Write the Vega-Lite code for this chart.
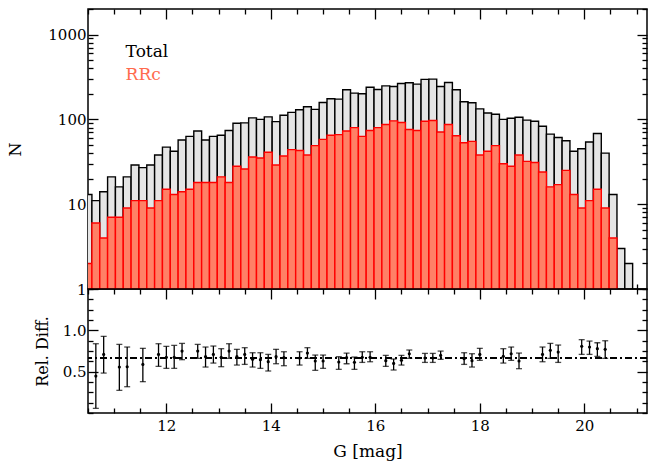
{
  "$schema": "https://vega.github.io/schema/vega-lite/v6.json",
  "padding": {"left": 7, "top": 1, "right": 19, "bottom": 5},
  "background": "white",
  "spacing": 0,
  "bounds": "flush",
  "config": {
    "font": "DejaVu Serif",
    "view": {"stroke": "black", "strokeWidth": 1.5},
    "axis": {
      "domain": false,
      "grid": false,
      "minExtent": 0,
      "tickColor": "black",
      "tickWidth": 1.3,
      "labelColor": "black",
      "labelFontSize": 15,
      "labelFlush": false,
      "labelOverlap": false,
      "titleColor": "black",
      "titleFontSize": 16,
      "titleFontWeight": "normal"
    }
  },
  "datasets": {
    "hist": [
      {"g0": 10.425, "g1": 10.575, "total": 13, "rrc": 2},
      {"g0": 10.575, "g1": 10.725, "total": 11, "rrc": 6},
      {"g0": 10.725, "g1": 10.875, "total": 14, "rrc": 4},
      {"g0": 10.875, "g1": 11.025, "total": 21, "rrc": 7},
      {"g0": 11.025, "g1": 11.175, "total": 16, "rrc": 7},
      {"g0": 11.175, "g1": 11.325, "total": 21, "rrc": 9},
      {"g0": 11.325, "g1": 11.475, "total": 29, "rrc": 11},
      {"g0": 11.475, "g1": 11.625, "total": 27, "rrc": 11},
      {"g0": 11.625, "g1": 11.775, "total": 29, "rrc": 9},
      {"g0": 11.775, "g1": 11.925, "total": 38, "rrc": 11},
      {"g0": 11.925, "g1": 12.075, "total": 47, "rrc": 15},
      {"g0": 12.075, "g1": 12.225, "total": 42, "rrc": 13},
      {"g0": 12.225, "g1": 12.375, "total": 57, "rrc": 14},
      {"g0": 12.375, "g1": 12.525, "total": 63, "rrc": 15},
      {"g0": 12.525, "g1": 12.675, "total": 73, "rrc": 18},
      {"g0": 12.675, "g1": 12.825, "total": 57, "rrc": 18},
      {"g0": 12.825, "g1": 12.975, "total": 63, "rrc": 18},
      {"g0": 12.975, "g1": 13.125, "total": 65, "rrc": 21},
      {"g0": 13.125, "g1": 13.275, "total": 74, "rrc": 18},
      {"g0": 13.275, "g1": 13.425, "total": 90, "rrc": 28},
      {"g0": 13.425, "g1": 13.575, "total": 91, "rrc": 26},
      {"g0": 13.575, "g1": 13.725, "total": 104, "rrc": 36},
      {"g0": 13.725, "g1": 13.875, "total": 100, "rrc": 35},
      {"g0": 13.875, "g1": 14.025, "total": 107, "rrc": 41},
      {"g0": 14.025, "g1": 14.175, "total": 94, "rrc": 29},
      {"g0": 14.175, "g1": 14.325, "total": 112, "rrc": 37},
      {"g0": 14.325, "g1": 14.475, "total": 121, "rrc": 44},
      {"g0": 14.475, "g1": 14.625, "total": 130, "rrc": 43},
      {"g0": 14.625, "g1": 14.775, "total": 141, "rrc": 38},
      {"g0": 14.775, "g1": 14.925, "total": 131, "rrc": 49},
      {"g0": 14.925, "g1": 15.075, "total": 158, "rrc": 58},
      {"g0": 15.075, "g1": 15.225, "total": 175, "rrc": 65},
      {"g0": 15.225, "g1": 15.375, "total": 173, "rrc": 66},
      {"g0": 15.375, "g1": 15.525, "total": 223, "rrc": 73},
      {"g0": 15.525, "g1": 15.675, "total": 204, "rrc": 80},
      {"g0": 15.675, "g1": 15.825, "total": 200, "rrc": 63},
      {"g0": 15.825, "g1": 15.975, "total": 239, "rrc": 74},
      {"g0": 15.975, "g1": 16.125, "total": 225, "rrc": 80},
      {"g0": 16.125, "g1": 16.275, "total": 248, "rrc": 87},
      {"g0": 16.275, "g1": 16.425, "total": 244, "rrc": 96},
      {"g0": 16.425, "g1": 16.575, "total": 265, "rrc": 92},
      {"g0": 16.575, "g1": 16.725, "total": 270, "rrc": 76},
      {"g0": 16.725, "g1": 16.875, "total": 260, "rrc": 74},
      {"g0": 16.875, "g1": 17.025, "total": 296, "rrc": 95},
      {"g0": 17.025, "g1": 17.175, "total": 298, "rrc": 97},
      {"g0": 17.175, "g1": 17.325, "total": 244, "rrc": 71},
      {"g0": 17.325, "g1": 17.475, "total": 272, "rrc": 87},
      {"g0": 17.475, "g1": 17.625, "total": 223, "rrc": 64},
      {"g0": 17.625, "g1": 17.775, "total": 161, "rrc": 53},
      {"g0": 17.775, "g1": 17.925, "total": 157, "rrc": 55},
      {"g0": 17.925, "g1": 18.075, "total": 133, "rrc": 38},
      {"g0": 18.075, "g1": 18.225, "total": 119, "rrc": 42},
      {"g0": 18.225, "g1": 18.375, "total": 115, "rrc": 49},
      {"g0": 18.375, "g1": 18.525, "total": 100, "rrc": 30},
      {"g0": 18.525, "g1": 18.675, "total": 103, "rrc": 28},
      {"g0": 18.675, "g1": 18.825, "total": 106, "rrc": 38},
      {"g0": 18.825, "g1": 18.975, "total": 98, "rrc": 32},
      {"g0": 18.975, "g1": 19.125, "total": 95, "rrc": 31},
      {"g0": 19.125, "g1": 19.275, "total": 83, "rrc": 24},
      {"g0": 19.275, "g1": 19.425, "total": 67, "rrc": 16},
      {"g0": 19.425, "g1": 19.575, "total": 61, "rrc": 17},
      {"g0": 19.575, "g1": 19.725, "total": 56, "rrc": 25},
      {"g0": 19.725, "g1": 19.875, "total": 42, "rrc": 13},
      {"g0": 19.875, "g1": 20.025, "total": 45, "rrc": 9},
      {"g0": 20.025, "g1": 20.175, "total": 54, "rrc": 11},
      {"g0": 20.175, "g1": 20.325, "total": 68, "rrc": 15},
      {"g0": 20.325, "g1": 20.475, "total": 40, "rrc": 9},
      {"g0": 20.475, "g1": 20.625, "total": 13, "rrc": 4},
      {"g0": 20.625, "g1": 20.775, "total": 3, "rrc": null},
      {"g0": 20.775, "g1": 20.925, "total": 2, "rrc": null}
    ],
    "reldiff": [
      {"g": 10.65, "rd": 0.447, "lo": 0.056, "hi": 0.838},
      {"g": 10.80, "rd": 0.709, "lo": 0.483, "hi": 0.927},
      {"g": 11.10, "rd": 0.556, "lo": 0.274, "hi": 0.830},
      {"g": 11.25, "rd": 0.560, "lo": 0.318, "hi": 0.798},
      {"g": 11.55, "rd": 0.588, "lo": 0.379, "hi": 0.782},
      {"g": 11.85, "rd": 0.709, "lo": 0.564, "hi": 0.838},
      {"g": 12.00, "rd": 0.673, "lo": 0.540, "hi": 0.806},
      {"g": 12.15, "rd": 0.673, "lo": 0.540, "hi": 0.818},
      {"g": 12.30, "rd": 0.749, "lo": 0.645, "hi": 0.842},
      {"g": 12.60, "rd": 0.749, "lo": 0.661, "hi": 0.830},
      {"g": 12.75, "rd": 0.681, "lo": 0.556, "hi": 0.798},
      {"g": 12.90, "rd": 0.709, "lo": 0.604, "hi": 0.810},
      {"g": 13.05, "rd": 0.673, "lo": 0.560, "hi": 0.778},
      {"g": 13.20, "rd": 0.749, "lo": 0.661, "hi": 0.838},
      {"g": 13.35, "rd": 0.681, "lo": 0.580, "hi": 0.770},
      {"g": 13.50, "rd": 0.709, "lo": 0.588, "hi": 0.790},
      {"g": 13.65, "rd": 0.649, "lo": 0.556, "hi": 0.729},
      {"g": 13.80, "rd": 0.645, "lo": 0.540, "hi": 0.729},
      {"g": 13.95, "rd": 0.621, "lo": 0.508, "hi": 0.709},
      {"g": 14.10, "rd": 0.681, "lo": 0.596, "hi": 0.770},
      {"g": 14.25, "rd": 0.669, "lo": 0.572, "hi": 0.741},
      {"g": 14.55, "rd": 0.665, "lo": 0.580, "hi": 0.741},
      {"g": 14.70, "rd": 0.725, "lo": 0.661, "hi": 0.790},
      {"g": 14.85, "rd": 0.629, "lo": 0.516, "hi": 0.701},
      {"g": 15.00, "rd": 0.629, "lo": 0.540, "hi": 0.701},
      {"g": 15.30, "rd": 0.617, "lo": 0.528, "hi": 0.681},
      {"g": 15.45, "rd": 0.669, "lo": 0.596, "hi": 0.725},
      {"g": 15.60, "rd": 0.613, "lo": 0.528, "hi": 0.677},
      {"g": 15.75, "rd": 0.673, "lo": 0.612, "hi": 0.741},
      {"g": 15.90, "rd": 0.673, "lo": 0.620, "hi": 0.741},
      {"g": 16.20, "rd": 0.633, "lo": 0.564, "hi": 0.697},
      {"g": 16.35, "rd": 0.600, "lo": 0.520, "hi": 0.653},
      {"g": 16.50, "rd": 0.637, "lo": 0.580, "hi": 0.697},
      {"g": 16.65, "rd": 0.717, "lo": 0.661, "hi": 0.762},
      {"g": 16.95, "rd": 0.665, "lo": 0.612, "hi": 0.721},
      {"g": 17.10, "rd": 0.665, "lo": 0.612, "hi": 0.721},
      {"g": 17.25, "rd": 0.697, "lo": 0.649, "hi": 0.749},
      {"g": 17.70, "rd": 0.657, "lo": 0.588, "hi": 0.729},
      {"g": 17.85, "rd": 0.633, "lo": 0.556, "hi": 0.717},
      {"g": 18.00, "rd": 0.709, "lo": 0.637, "hi": 0.782},
      {"g": 18.45, "rd": 0.685, "lo": 0.604, "hi": 0.778},
      {"g": 18.60, "rd": 0.717, "lo": 0.637, "hi": 0.798},
      {"g": 18.75, "rd": 0.629, "lo": 0.536, "hi": 0.725},
      {"g": 19.20, "rd": 0.709, "lo": 0.620, "hi": 0.798},
      {"g": 19.35, "rd": 0.758, "lo": 0.661, "hi": 0.842},
      {"g": 19.50, "rd": 0.737, "lo": 0.612, "hi": 0.822},
      {"g": 19.95, "rd": 0.806, "lo": 0.709, "hi": 0.887},
      {"g": 20.10, "rd": 0.798, "lo": 0.709, "hi": 0.870},
      {"g": 20.25, "rd": 0.778, "lo": 0.685, "hi": 0.850},
      {"g": 20.40, "rd": 0.770, "lo": 0.661, "hi": 0.874}
    ]
  },
  "vconcat": [
    {
      "width": 559,
      "height": 280,
      "data": {"name": "hist"},
      "layer": [
        {
          "mark": {"type": "bar", "fill": "#e5e5e5", "stroke": "black", "strokeWidth": 1.4, "clip": true},
          "encoding": {
            "x": {
              "field": "g0", "type": "quantitative",
              "scale": {"domain": [10.5, 21.2], "nice": false, "zero": false},
              "axis": {
                "orient": "bottom", "title": null, "labels": false,
                "values": [10.5, 11, 11.5, 12, 12.5, 13, 13.5, 14, 14.5, 15, 15.5, 16, 16.5, 17, 17.5, 18, 18.5, 19, 19.5, 20, 20.5, 21],
                "tickSize": {"condition": {"test": "datum.value % 2 == 0", "value": -10}, "value": -5}
              }
            },
            "x2": {"field": "g1"},
            "y": {
              "field": "total", "type": "quantitative",
              "scale": {"type": "log", "domain": [1, 2000], "nice": false},
              "axis": {
                "orient": "left", "title": "N", "format": "d",
                "values": [1, 2, 3, 4, 5, 6, 7, 8, 9, 10, 20, 30, 40, 50, 60, 70, 80, 90, 100, 200, 300, 400, 500, 600, 700, 800, 900, 1000, 2000],
                "labelExpr": "datum.value == 1 || datum.value == 10 || datum.value == 100 || datum.value == 1000 ? datum.label : ''",
                "tickSize": {"condition": {"test": "datum.value == 1 || datum.value == 10 || datum.value == 100 || datum.value == 1000", "value": -10}, "value": -5},
                "labelPadding": 12,
                "titlePadding": 24
              }
            },
            "y2": {"datum": 1}
          }
        },
        {
          "mark": {"type": "bar", "fill": "#ff8066", "stroke": "#ff0000", "strokeWidth": 1.4, "clip": true},
          "encoding": {
            "x": {
              "field": "g0", "type": "quantitative",
              "axis": {
                "orient": "top", "title": null, "labels": false,
                "values": [10.5, 11, 11.5, 12, 12.5, 13, 13.5, 14, 14.5, 15, 15.5, 16, 16.5, 17, 17.5, 18, 18.5, 19, 19.5, 20, 20.5, 21],
                "tickSize": {"condition": {"test": "datum.value % 2 == 0", "value": -10}, "value": -5}
              }
            },
            "x2": {"field": "g1"},
            "y": {
              "field": "rrc", "type": "quantitative",
              "axis": {
                "orient": "right", "title": null, "labels": false,
                "values": [1, 2, 3, 4, 5, 6, 7, 8, 9, 10, 20, 30, 40, 50, 60, 70, 80, 90, 100, 200, 300, 400, 500, 600, 700, 800, 900, 1000, 2000],
                "tickSize": {"condition": {"test": "datum.value == 1 || datum.value == 10 || datum.value == 100 || datum.value == 1000", "value": -10}, "value": -5}
              }
            },
            "y2": {"datum": 1}
          }
        },
        {
          "data": {"values": [{"label": "Total"}]},
          "mark": {"type": "text", "align": "left", "baseline": "middle", "fontSize": 17, "color": "black"},
          "encoding": {
            "text": {"field": "label"},
            "x": {"datum": 11.22, "type": "quantitative", "axis": null},
            "y": {"datum": 620, "type": "quantitative", "axis": null}
          }
        },
        {
          "data": {"values": [{"label": "RRc"}]},
          "mark": {"type": "text", "align": "left", "baseline": "middle", "fontSize": 17, "color": "#ff6a4d"},
          "encoding": {
            "text": {"field": "label"},
            "x": {"datum": 11.22, "type": "quantitative", "axis": null},
            "y": {"datum": 330, "type": "quantitative", "axis": null}
          }
        }
      ],
      "resolve": {"axis": {"x": "independent", "y": "independent"}}
    },
    {
      "width": 559,
      "height": 124,
      "data": {"name": "reldiff"},
      "layer": [
        {
          "mark": {"type": "rule", "color": "black", "strokeWidth": 1, "strokeDash": [7, 3, 2, 3]},
          "encoding": {
            "y": {"datum": 0.67, "type": "quantitative", "axis": null}
          }
        },
        {
          "mark": {"type": "rule", "color": "black", "strokeWidth": 1.3},
          "encoding": {
            "x": {
              "field": "g", "type": "quantitative",
              "scale": {"domain": [10.5, 21.2], "nice": false, "zero": false},
              "axis": {
                "orient": "bottom", "title": "G [mag]",
                "titleFontSize": 17,
                "values": [10.5, 11, 11.5, 12, 12.5, 13, 13.5, 14, 14.5, 15, 15.5, 16, 16.5, 17, 17.5, 18, 18.5, 19, 19.5, 20, 20.5, 21],
                "labelExpr": "datum.value % 2 == 0 ? '' + datum.value : ''",
                "tickSize": {"condition": {"test": "datum.value % 2 == 0", "value": -10}, "value": -5},
                "labelPadding": 15,
                "titlePadding": 5
              }
            },
            "y": {
              "field": "lo", "type": "quantitative",
              "scale": {"domain": [0, 1.5], "nice": false, "zero": false},
              "axis": {
                "orient": "left", "title": "Rel. Diff.", "format": ".1f",
                "values": [0, 0.125, 0.25, 0.375, 0.5, 0.625, 0.75, 0.875, 1, 1.125, 1.25, 1.375, 1.5],
                "labelExpr": "datum.value == 0.5 || datum.value == 1 ? datum.label : ''",
                "tickSize": {"condition": {"test": "datum.value == 0.5 || datum.value == 1", "value": -10}, "value": -5},
                "labelPadding": 12,
                "titlePadding": 12
              }
            },
            "y2": {"field": "hi"}
          }
        },
        {
          "mark": {"type": "tick", "orient": "horizontal", "color": "black", "size": 6, "thickness": 1.3},
          "encoding": {
            "x": {
              "field": "g", "type": "quantitative",
              "axis": {
                "orient": "top", "title": null, "labels": false,
                "values": [10.5, 11, 11.5, 12, 12.5, 13, 13.5, 14, 14.5, 15, 15.5, 16, 16.5, 17, 17.5, 18, 18.5, 19, 19.5, 20, 20.5, 21],
                "tickSize": {"condition": {"test": "datum.value % 2 == 0", "value": -10}, "value": -5}
              }
            },
            "y": {
              "field": "lo", "type": "quantitative",
              "axis": {
                "orient": "right", "title": null, "labels": false,
                "values": [0, 0.125, 0.25, 0.375, 0.5, 0.625, 0.75, 0.875, 1, 1.125, 1.25, 1.375, 1.5],
                "tickSize": {"condition": {"test": "datum.value == 0.5 || datum.value == 1", "value": -10}, "value": -5}
              }
            }
          }
        },
        {
          "mark": {"type": "tick", "orient": "horizontal", "color": "black", "size": 6, "thickness": 1.3},
          "encoding": {
            "x": {"field": "g", "type": "quantitative", "axis": null},
            "y": {"field": "hi", "type": "quantitative", "axis": null}
          }
        },
        {
          "mark": {"type": "point", "filled": true, "color": "black", "size": 10, "opacity": 1},
          "encoding": {
            "x": {"field": "g", "type": "quantitative", "axis": null},
            "y": {"field": "rd", "type": "quantitative", "axis": null}
          }
        }
      ],
      "resolve": {"axis": {"x": "independent", "y": "independent"}}
    }
  ]
}
